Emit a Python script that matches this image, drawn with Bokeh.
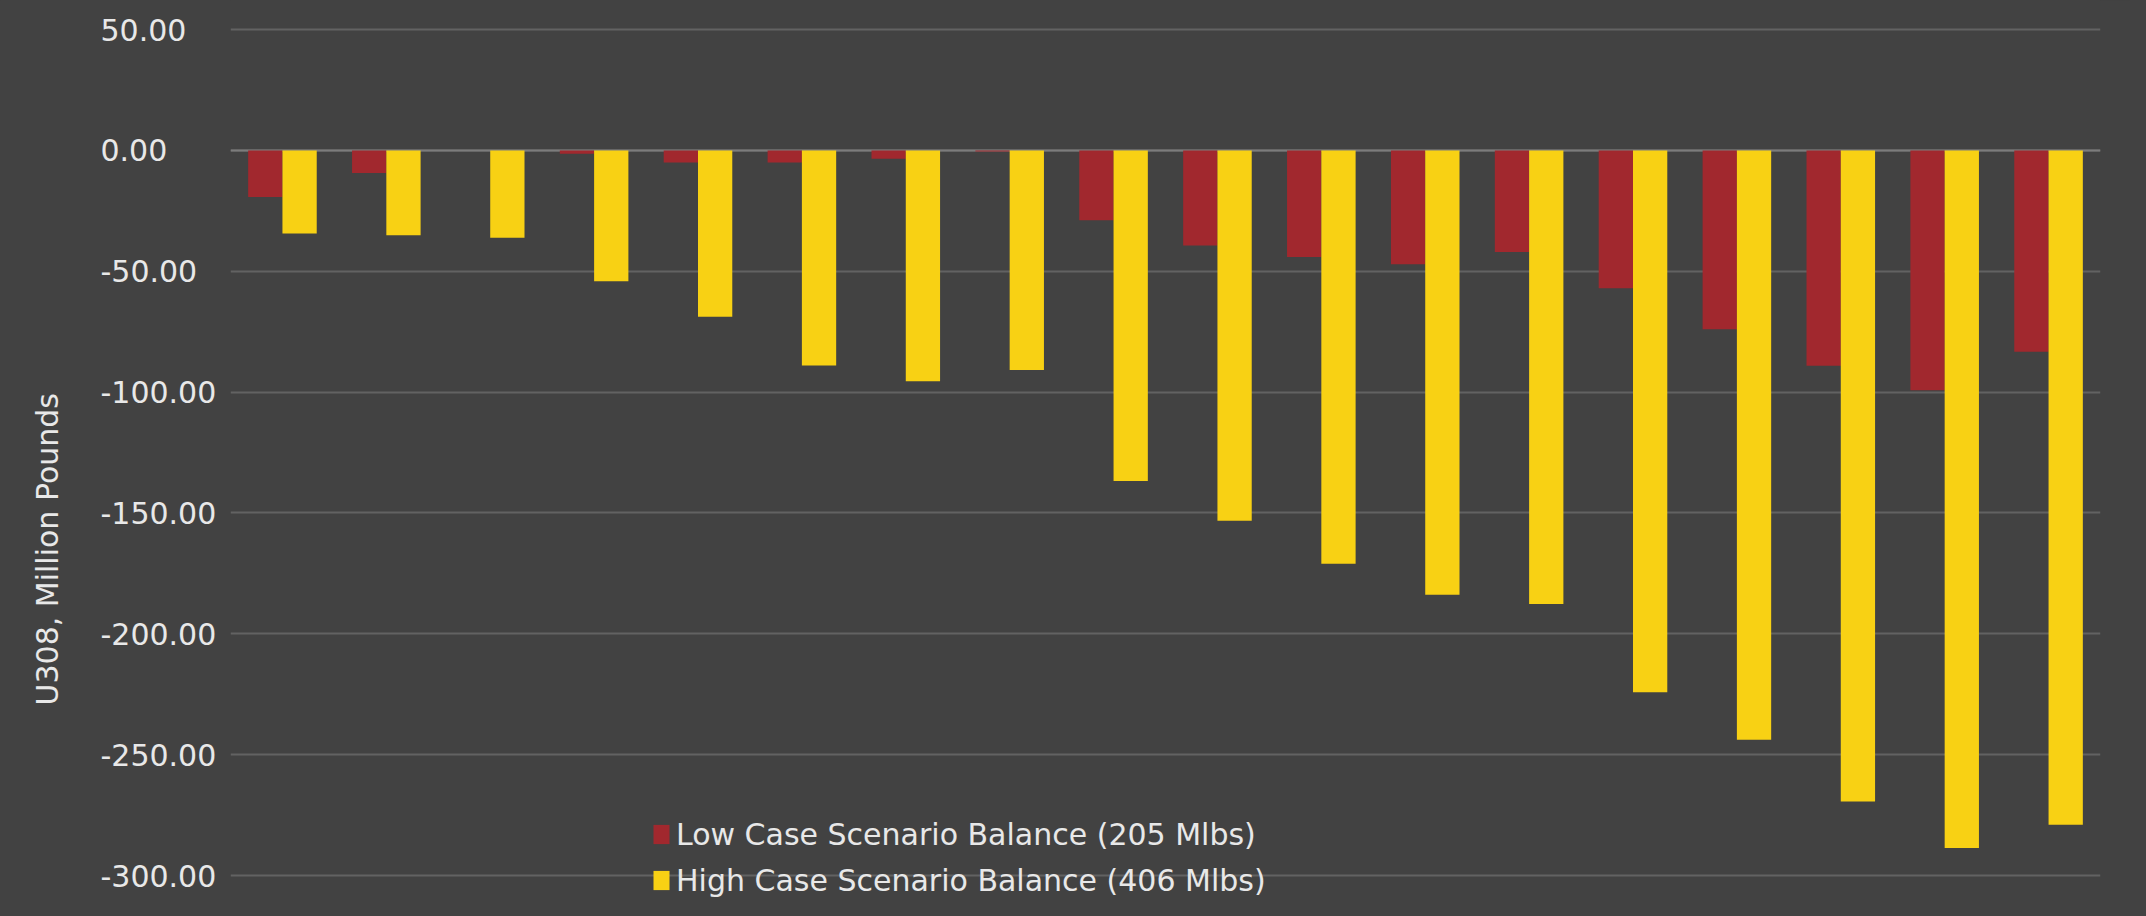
import math
from bokeh.plotting import figure
from bokeh.layouts import row
from bokeh.models import (FactorRange, Range1d, FixedTicker, ColumnDataSource,
                          Legend, LegendItem, Span)
from bokeh.transform import dodge
from bokeh.core.properties import value
from bokeh.embed import file_html
from bokeh.resources import INLINE

# ---- data ----
categories = ["2013", "2014", "2015", "2016", "2017", "2018", "2019", "2020", "2021",
              "2022", "2023", "2024", "2025", "2026", "2027", "2028", "2029", "2030"]
low_case = [-19.3, -9.4, 0.0, -1.4, -5.0, -5.0, -3.5, -0.5, -28.9,
            -39.3, -44.1, -47.1, -42.0, -57.0, -74.0, -89.1, -99.2, -83.3]
high_case = [-34.4, -35.1, -36.1, -54.1, -68.8, -89.0, -95.5, -90.8, -136.8,
             -153.2, -171.0, -183.8, -187.6, -224.2, -243.8, -269.3, -288.6, -279.0]
y_ticks = [50, 0, -50, -100, -150, -200, -250, -300]
y_tick_labels = ["50.00", "0.00", "-50.00", "-100.00", "-150.00", "-200.00", "-250.00", "-300.00"]
low_label = "Low Case Scenario Balance (205 Mlbs)"
high_label = "High Case Scenario Balance (406 Mlbs)"
y_title = "U308, Million Pounds"

BG = "#424242"
RED = "#a1282e"
YELLOW = "#f8d114"
TXT = "#e8e8e8"
FONT = "DejaVu Sans"

src = ColumnDataSource(dict(cat=categories, low=low_case, high=high_case))
y_range = Range1d(-310.3, 62.0)

# ---- main plot ----
p = figure(width=1900, height=900, output_backend="svg", toolbar_location=None,
           x_range=FactorRange(*categories, range_padding=0.0), y_range=y_range,
           min_border_left=0, min_border_right=30, min_border_top=0, min_border_bottom=0,
           background_fill_color=BG, border_fill_color=BG, outline_line_color=None)

r_low = p.vbar(x=dodge("cat", -0.165, range=p.x_range), top="low", bottom=0, width=0.33,
               source=src, fill_color=RED, line_color=None)
r_high = p.vbar(x=dodge("cat", 0.165, range=p.x_range), top="high", bottom=0, width=0.33,
                source=src, fill_color=YELLOW, line_color=None)

p.xaxis.visible = False
p.yaxis.visible = False
p.xgrid.grid_line_color = None
p.ygrid.ticker = FixedTicker(ticks=y_ticks)
p.ygrid.grid_line_color = "#626262"
p.ygrid.grid_line_width = 2
p.add_layout(Span(location=0, dimension="width", line_color="#7c7c7c", line_width=2, level="underlay"))

legend = Legend(items=[LegendItem(label=low_label, renderers=[r_low]),
                       LegendItem(label=high_label, renderers=[r_high])],
                location=(421, 0), orientation="vertical",
                background_fill_alpha=0, border_line_color=None,
                padding=0, margin=0, spacing=6,
                glyph_width=20, glyph_height=24, label_height=40, label_standoff=5,
                label_text_font=FONT, label_text_font_size="30px", label_text_color=TXT)
p.add_layout(legend)

# ---- left strip holding the y tick labels and the axis title (left-aligned labels) ----
lp = figure(width=230, height=900, output_backend="svg", toolbar_location=None,
            x_range=Range1d(0, 230), y_range=y_range,
            min_border_left=0, min_border_right=0, min_border_top=0, min_border_bottom=0,
            background_fill_color=BG, border_fill_color=BG, outline_line_color=None)
lp.axis.visible = False
lp.grid.grid_line_color = None
tick_src = ColumnDataSource(dict(y=y_ticks, text=y_tick_labels, x=[100] * len(y_ticks)))
lp.text(x="x", y="y", text="text", source=tick_src, text_align="left", text_baseline="middle",
        text_font=value(FONT), text_font_size="30px", text_color=TXT)
lp.text(x=[47], y=[-165], text=[y_title], angle=math.pi / 2, text_align="center",
        text_baseline="middle", text_font=value(FONT), text_font_size="30px", text_color=TXT)

layout = row(lp, p, spacing=0)

html = file_html(layout, INLINE)
html = html.replace("<head>", "<head><style>html, body { background: #424242; }</style>", 1)
open("out.html", "w").write(html)
